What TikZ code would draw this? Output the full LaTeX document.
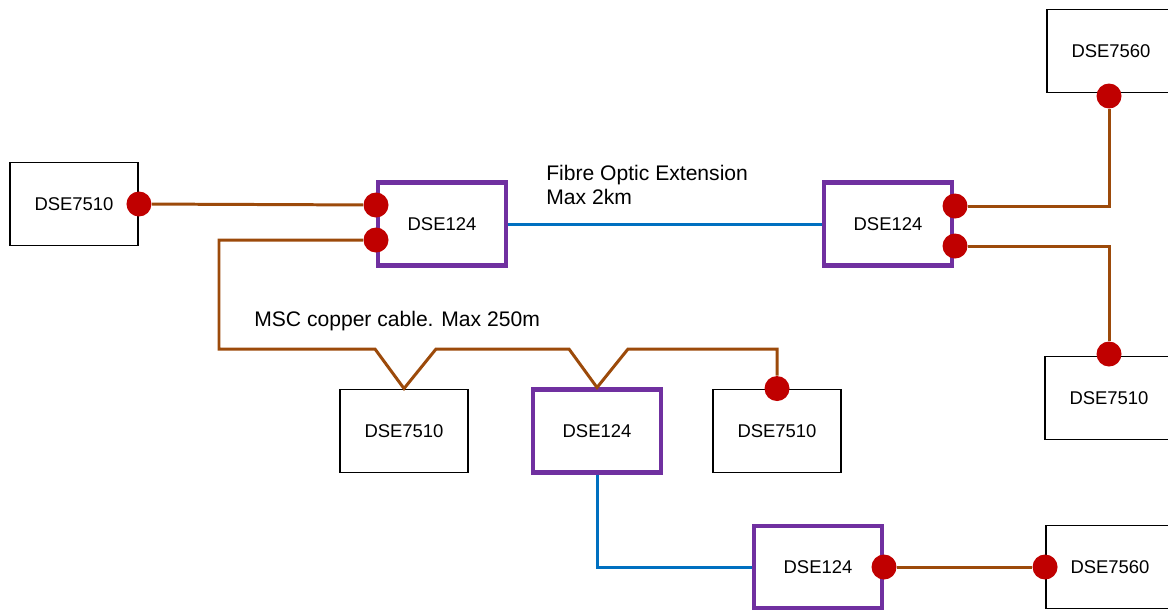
\documentclass[tikz,border=0pt]{standalone}
\usepackage{fontspec}
\setmainfont{Liberation Sans}
\definecolor{dsered}{RGB}{192,0,0}
\definecolor{dsebrown}{RGB}{156,74,10}
\definecolor{dsepurple}{RGB}{112,48,160}
\definecolor{dseblue}{RGB}{0,112,192}

\begin{document}
\begin{tikzpicture}[x=0.02cm,y=-0.02cm,
  unitbox/.style={draw, line width=1.1pt, minimum width=2.56cm, minimum height=1.66cm, font=\fontsize{10.5}{12.6}\selectfont},
  expbox/.style={unitbox, draw=dsepurple, line width=2.3pt},
  dot/.style={circle, fill=dsered, minimum size=0.5cm, inner sep=0pt},
  copper/.style={draw=dsebrown, line width=1.7pt},
  fibre/.style={draw=dseblue, line width=1.7pt}]
\clip (0,0) rectangle (1168,609);

% units
\node[unitbox] (A) at (74,204) {DSE7510};
\node[expbox] (B) at (442,224) {DSE124};
\node[expbox] (C) at (888,224) {DSE124};
\node[unitbox] (D) at (1111,51) {DSE7560};
\node[unitbox] (E) at (1109,398) {DSE7510};
\node[unitbox] (F) at (404,431) {DSE7510};
\node[expbox] (G) at (597,431) {DSE124};
\node[unitbox] (H) at (777,431) {DSE7510};
\node[expbox] (I) at (818,567) {DSE124};
\node[unitbox] (J) at (1110,567) {DSE7560};

% ports
\node[dot] (a1) at (A.east) {};
\node[dot] (b1) at (376,205) {};
\node[dot] (b2) at (376,240) {};
\node[dot] (c1) at (955,206) {};
\node[dot] (c2) at (955,246) {};
\node[dot] (d1) at (1109,96) {};
\node[dot] (e1) at (1109,354) {};
\node[dot] (h1) at (H.north) {};
\node[dot] (i1) at (I.east) {};
\node[dot] (j1) at (J.west) {};

% labels
\node[anchor=north west, align=left, inner sep=0pt, font=\fontsize{12}{13.6}\selectfont] (fibretxt) at (546,165) {Fibre Optic Extension\\Max 2km};
\node[anchor=base west, inner sep=0pt, font=\fontsize{12}{14.4}\selectfont] (coppertxt) at (254,326) {MSC copper cable. Max 250m};

% cables
\coordinate (bus0) at (219,349);
\draw[copper] (a1) -- (b1);
\draw[copper] (b2) -| (bus0) -- (375,349) -- (F.north) -- (436,349) -- (569,349) -- (G.north) -- (628,349) -| (h1);
\draw[copper] (c1) -| (d1);
\draw[copper] (c2) -| (e1);
\draw[copper] (i1) -- (j1);
\draw[fibre] (B) -- (C);
\draw[fibre] (G) |- (I);
\end{tikzpicture}
\end{document}
